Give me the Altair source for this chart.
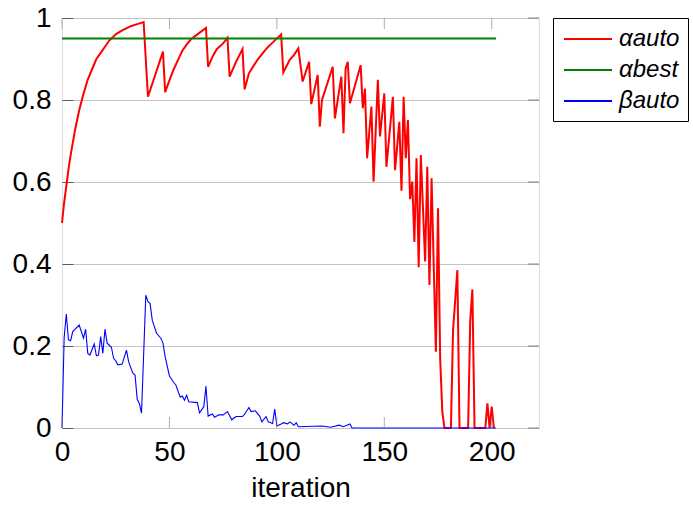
import altair as alt
import pandas as pd

# ---- data ----
SERIES = ["αauto", "αbest", "βauto"]
COLORS = ["#ff0000", "#008000", "#0000ff"]

red_x = [0, 1, 2, 3, 4, 5, 6, 8, 10, 12, 14, 16, 18, 20, 22, 25, 28, 32, 35, 38,
         40, 47, 48, 50, 52, 54, 56, 58, 60, 63, 67, 68, 70, 72, 75, 77, 78, 81, 84, 85,
         87, 89, 91, 94, 96, 98, 102, 103, 106, 108, 110, 112, 115, 116, 119, 120, 121, 126, 127, 130,
         131, 132, 133, 134, 139, 140, 141, 142, 144, 145, 147, 148, 150, 151, 154, 155, 157, 158, 159, 160,
         161, 162, 163, 164, 165, 166, 167, 169, 170, 171, 172, 174, 175, 176, 177, 178, 181, 182, 184, 185,
         189, 190, 191, 192, 197, 198, 199, 200, 201]
red_y = [0.50, 0.55, 0.59, 0.63, 0.665, 0.695, 0.725, 0.775, 0.815, 0.85, 0.875, 0.90, 0.915, 0.93, 0.945, 0.96, 0.97, 0.98, 0.985, 0.99,
         0.808, 0.918, 0.819, 0.848, 0.875, 0.898, 0.92, 0.935, 0.948, 0.96, 0.976, 0.881, 0.905, 0.924, 0.938, 0.952, 0.857, 0.893, 0.924, 0.826,
         0.865, 0.882, 0.898, 0.918, 0.93, 0.94, 0.96, 0.867, 0.898, 0.91, 0.926, 0.845, 0.893, 0.79, 0.861, 0.735, 0.80, 0.881, 0.755, 0.857,
         0.719, 0.877, 0.893, 0.792, 0.885, 0.78, 0.828, 0.658, 0.784, 0.601, 0.849, 0.711, 0.816, 0.637, 0.808, 0.629, 0.747, 0.579, 0.808, 0.658,
         0.751, 0.558, 0.601, 0.454, 0.658, 0.392, 0.666, 0.406, 0.637, 0.349, 0.609, 0.186, 0.536, 0.17, 0.04, 0.0, 0.0, 0.239, 0.385, 0.0,
         0.0, 0.263, 0.338, 0.0, 0.0, 0.06, 0.0, 0.052, 0.0]

green_x = [0, 202]
green_y = [0.95, 0.95]

blue_x = [0, 1, 2, 3, 4, 5, 8, 10, 11, 12, 13, 15, 16, 17, 18, 19, 20, 21, 23, 24,
          25, 26, 28, 30, 31, 33, 34, 35, 36, 37, 39, 40, 41, 42, 44, 46, 47, 48, 50, 52,
          53, 55, 56, 57, 58, 59, 63, 64, 66, 67, 68, 70, 71, 73, 75, 77, 79, 81, 84, 85,
          87, 88, 90, 92, 93, 95, 96, 98, 99, 100, 102, 103, 105, 106, 108, 109, 110, 121, 125, 129,
          131, 134, 135, 202]
blue_y = [0.0, 0.22, 0.278, 0.215, 0.213, 0.235, 0.251, 0.219, 0.241, 0.182, 0.178, 0.205, 0.176, 0.178, 0.223, 0.182, 0.241, 0.207, 0.197, 0.17,
          0.164, 0.154, 0.156, 0.19, 0.162, 0.133, 0.129, 0.07, 0.06, 0.036, 0.324, 0.308, 0.304, 0.263, 0.231, 0.219, 0.207, 0.174, 0.127, 0.111,
          0.105, 0.075, 0.078, 0.068, 0.08, 0.064, 0.062, 0.037, 0.052, 0.102, 0.029, 0.034, 0.026, 0.032, 0.032, 0.04, 0.02, 0.028, 0.028, 0.034,
          0.05, 0.04, 0.042, 0.029, 0.015, 0.028, 0.015, 0.011, 0.046, 0.005, 0.01, 0.013, 0.01, 0.015, 0.007, 0.013, 0.003, 0.005, 0.002, 0.007,
          0.003, 0.01, 0.0, 0.0]

x_ticks = [0, 50, 100, 150, 200]
y_ticks = [0, 0.2, 0.4, 0.6, 0.8, 1]
X_MIN, X_MAX = 0, 222
Y_MIN, Y_MAX = 0, 1

df = pd.concat([
    pd.DataFrame({"iteration": red_x, "value": red_y, "series": SERIES[0]}),
    pd.DataFrame({"iteration": green_x, "value": green_y, "series": SERIES[1]}),
    pd.DataFrame({"iteration": blue_x, "value": blue_y, "series": SERIES[2]}),
], ignore_index=True)
xt = pd.DataFrame({"iteration": x_ticks})
yt = pd.DataFrame({"value": y_ticks})

FONT = "Liberation Sans"
TICK_LEN = 11
X_TICK_COLOR = "#8c8c8c"
Y_TICK_COLOR = "#5a5a5a"

xscale = alt.Scale(domain=[X_MIN, X_MAX], nice=False, zero=False)
yscale = alt.Scale(domain=[Y_MIN, Y_MAX], nice=False)

color = alt.Color(
    "series:N",
    scale=alt.Scale(domain=SERIES, range=COLORS),
    legend=alt.Legend(
        title=None, orient="none", legendX=491, legendY=0,
        strokeColor="black", fillColor="white", padding=8, symbolOffset=14,
        symbolType="M-2,0H2", symbolSize=576, symbolStrokeWidth=2,
        labelFont=FONT, labelFontSize=24, labelFontStyle="italic",
        labelOffset=18, rowPadding=6, labelColor="black",
    ),
)

axis_x = alt.Axis(values=x_ticks, orient="bottom", title="iteration", ticks=False, tickSize=0,
                  domain=False, grid=False, labelFont=FONT, labelFontSize=28, labelColor="black",
                  labelPadding=10, titleFont=FONT, titleFontSize=28, titleFontWeight="normal",
                  titleColor="black", titlePadding=8, labelFlush=False)
axis_y = alt.Axis(values=y_ticks, orient="left", title=None, ticks=True,
                  tickSize=alt.ExprRef(expr=str(-TICK_LEN)),
                  tickColor=Y_TICK_COLOR, tickWidth=1, domain=False,
                  grid=True, gridColor="#c4c4c4", gridWidth=1, labelFont=FONT, labelFontSize=28,
                  labelColor="black", labelPadding=11 + TICK_LEN, labelFlush=False,
                  labelExpr="datum.value == 0 ? '0' : datum.value == 1 ? '1' : format(datum.value, '.1f')")

X = alt.X("iteration:Q", scale=xscale, axis=axis_x)
Y = alt.Y("value:Q", scale=yscale, axis=axis_y)

red = alt.Chart(df).transform_filter(alt.datum.series == SERIES[0]).mark_line(strokeWidth=2).encode(
    x=X, y=Y, color=color)
green = alt.Chart(df).transform_filter(alt.datum.series == SERIES[1]).mark_line(strokeWidth=2).encode(
    x=X, y=Y, color=color)
blue = alt.Chart(df).transform_filter(alt.datum.series == SERIES[2]).mark_line(strokeWidth=1.1).encode(
    x=X, y=Y, color=color)

# inward tick marks on top, bottom and right frame edges (pgfplots style)
top_ticks = alt.Chart(xt).mark_tick(orient="vertical", size=TICK_LEN, thickness=1, color=X_TICK_COLOR,
                                    yOffset=TICK_LEN / 2).encode(
    x=X, y=alt.Y(datum=Y_MAX, scale=yscale))
bottom_ticks = alt.Chart(xt).mark_tick(orient="vertical", size=TICK_LEN, thickness=1, color=X_TICK_COLOR,
                                       yOffset=-TICK_LEN / 2).encode(
    x=X, y=alt.Y(datum=Y_MIN, scale=yscale))
right_ticks = alt.Chart(yt).mark_tick(orient="horizontal", size=TICK_LEN, thickness=1, color=Y_TICK_COLOR,
                                      xOffset=-TICK_LEN / 2).encode(
    y=Y, x=alt.X(datum=X_MAX, scale=xscale))

chart = alt.layer(red, green, blue, top_ticks, bottom_ticks, right_ticks).properties(
    width=477, height=410,
    autosize=alt.AutoSizeParams(type="none"),
    padding={"left": 62, "top": 18, "right": 154, "bottom": 77},
).configure_view(
    stroke="#333333", strokeWidth=1.2
).configure(background="white")

chart.save("out.html", embed_options={"renderer": "svg", "actions": False})
